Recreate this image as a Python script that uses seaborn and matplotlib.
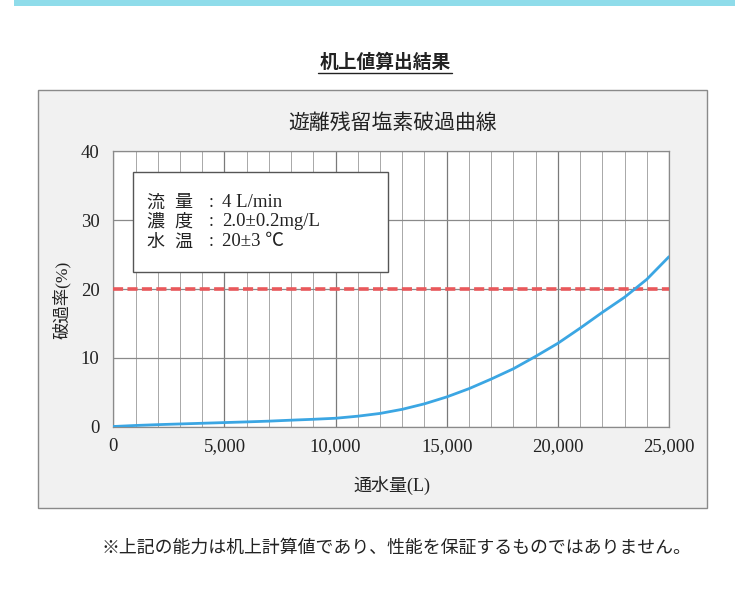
import matplotlib
matplotlib.use("Agg")
import matplotlib.pyplot as plt
from matplotlib.patches import Rectangle
from matplotlib.lines import Line2D
from matplotlib.ticker import MultipleLocator, FuncFormatter
import seaborn as sns
import pandas as pd

# ---- data ----
water_volume = [0, 1000, 2000, 3000, 4000, 5000, 6000, 7000, 8000, 9000,
                10000, 11000, 12000, 13000, 14000, 15000, 16000, 17000,
                18000, 19000, 20000, 21000, 22000, 23000, 24000, 25000]
breakthrough = [0.0, 0.15, 0.27, 0.37, 0.47, 0.57, 0.67, 0.78, 0.92, 1.05,
                1.2, 1.5, 1.9, 2.5, 3.3, 4.3, 5.5, 6.9, 8.4, 10.2,
                12.1, 14.3, 16.6, 18.8, 21.4, 24.7]
threshold_x = [0, 25000]
threshold_y = [20, 20]
x_ticks = [0, 5000, 10000, 15000, 20000, 25000]
y_ticks = [0, 10, 20, 30, 40]
page_title = "机上値算出結果"
chart_title = "遊離残留塩素破過曲線"
x_label = "通水量(L)"
y_label = "破過率(%)"
cond_labels = [("流", "量"), ("濃", "度"), ("水", "温")]
cond_values = ["4 L/min", "2.0±0.2mg/L", "20±3 ℃"]
footnote = "※上記の能力は机上計算値であり、性能を保証するものではありません。"

sns.set_style("white")
SERIF = ["Liberation Serif", "Noto Sans CJK JP", "DejaVu Sans"]
SANS = ["Noto Sans CJK JP", "DejaVu Sans"]
plt.rcParams["font.family"] = SERIF

fig = plt.figure(figsize=(7.42, 6.0), dpi=100)
fig.patch.set_facecolor("white")

# top cyan band
fig.patches.append(Rectangle((14 / 742, 1 - 6 / 600), (735 - 14) / 742, 6 / 600,
                             transform=fig.transFigure, facecolor="#8fdcea",
                             edgecolor="none", zorder=-5))
# grey panel
fig.patches.append(Rectangle((38 / 742, 1 - 508 / 600), (707 - 38) / 742, (508 - 90) / 600,
                             transform=fig.transFigure, facecolor="#f1f1f1",
                             edgecolor="#8a8a8a", linewidth=1.0, zorder=-5))

# page title with underline
fig.text(385 / 742, 1 - 62 / 600, page_title, family=SANS, fontsize=13.5,
         fontweight="bold", ha="center", va="center", color="#222222")
fig.add_artist(Line2D([318 / 742, 452 / 742], [1 - 73 / 600, 1 - 73 / 600],
                      transform=fig.transFigure, color="#222222", linewidth=1.0))

ax = fig.add_axes([113.3 / 742, 1 - 426.5 / 600, (669 - 113.3) / 742, 275 / 600])
ax.set_zorder(2)
ax.set_facecolor("white")

df_curve = pd.DataFrame({"volume": water_volume, "rate": breakthrough})
df_thr = pd.DataFrame({"volume": threshold_x, "rate": threshold_y})

sns.lineplot(data=df_thr, x="volume", y="rate", ax=ax, color="#e9585b",
             linewidth=2.6, zorder=4)
ax.lines[-1].set_dashes([2.8, 1.2])
sns.lineplot(data=df_curve, x="volume", y="rate", ax=ax, color="#3ba6e3",
             linewidth=2.0, zorder=5)

ax.set_xlim(0, 25000)
ax.set_ylim(0, 40)
ax.set_xticks(x_ticks)
ax.set_yticks(y_ticks)
ax.xaxis.set_minor_locator(MultipleLocator(1000))
ax.xaxis.set_major_formatter(FuncFormatter(lambda v, p: f"{int(v):,}"))
ax.grid(which="major", axis="x", color="#7a7a7a", linewidth=0.9)
ax.grid(which="minor", axis="x", color="#a8a8a8", linewidth=0.7)
ax.grid(which="major", axis="y", color="#8a8a8a", linewidth=0.9)
ax.set_axisbelow(True)
for s in ax.spines.values():
    s.set_color("#8a8a8a")
    s.set_linewidth(0.9)
ax.tick_params(axis="both", which="both", length=0, labelsize=13.5,
               colors="#222222")
ax.tick_params(axis="y", pad=10)
ax.tick_params(axis="x", pad=8)

ax.set_xlabel("")
ax.set_ylabel("")
fig.text(392 / 742, 1 - 485 / 600, x_label, fontsize=13, ha="center",
         va="center", color="#222222")
fig.text(62 / 742, 1 - 300 / 600, y_label, fontsize=12.5, ha="center",
         va="center", rotation=90, color="#222222")
fig.text(393 / 742, 1 - 124 / 600, chart_title, fontsize=15, ha="center",
         va="center", color="#222222")

# condition box
W = 669 - 113.3
bx0, bx1 = (133 - 113.3) / W, (388 - 113.3) / W
by0, by1 = (426.5 - 272) / 275, (426.5 - 172) / 275
ax.add_patch(Rectangle((bx0, by0), bx1 - bx0, by1 - by0, transform=ax.transAxes,
                       facecolor="white", edgecolor="#555555", linewidth=1.0,
                       zorder=6))
line_ys = [203, 222, 242]
for (c1, c2), val, yy in zip(cond_labels, cond_values, line_ys):
    yf = (426.5 - yy) / 275
    for ch, px in ((c1, 146), (c2, 174)):
        ax.text((px - 113.3) / W, yf, ch, transform=ax.transAxes,
                fontsize=13, va="center", ha="left", color="#222222", zorder=7)
    ax.text((209 - 113.3) / W, yf, ":", transform=ax.transAxes,
            fontsize=13, va="center", ha="left", color="#222222", zorder=7)
    ax.text((222 - 113.3) / W, yf, val, transform=ax.transAxes,
            fontsize=13.5, va="center", ha="left", color="#222222", zorder=7)

fig.text(396 / 742, 1 - 548 / 600, footnote, family=SANS, fontsize=12.9,
         ha="center", va="center", color="#222222")

fig.savefig("out.png", dpi=100)
